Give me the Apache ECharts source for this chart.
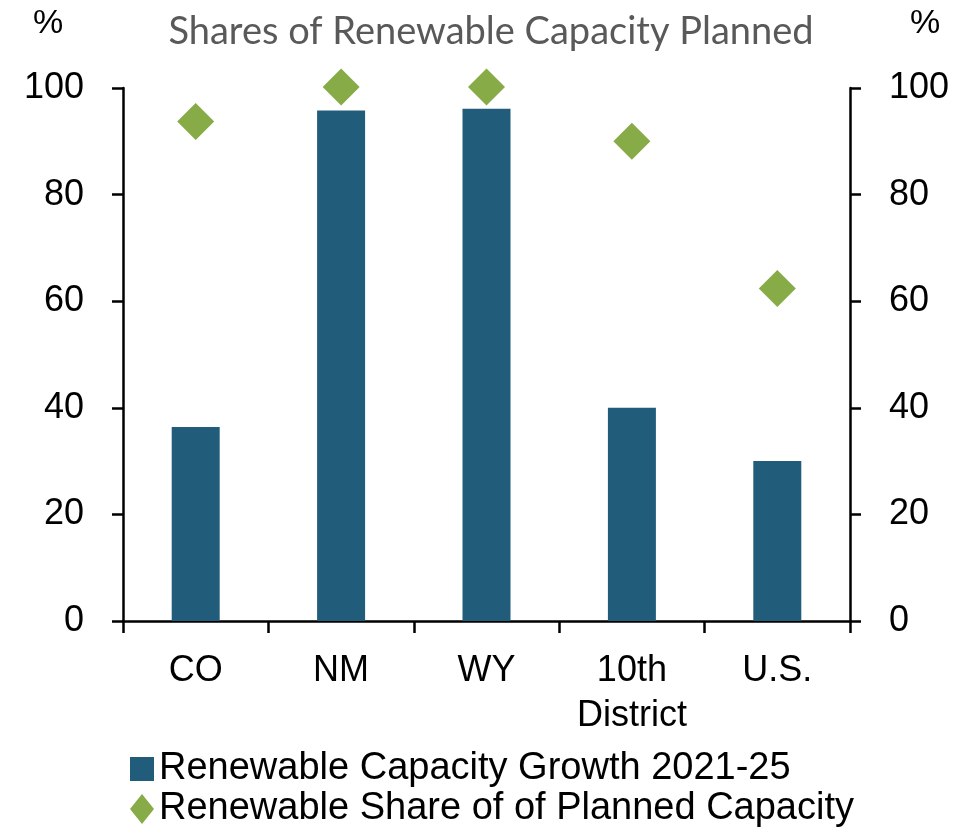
<!DOCTYPE html>
<html><head><meta charset="utf-8">
<script src="https://cdn.jsdelivr.net/npm/echarts@6/dist/echarts.min.js"></script>
<style>html,body{margin:0;padding:0;background:#fff}#c{width:976px;height:828px}</style>
</head><body><div id="c"></div>
<script>
const categories = ['CO', 'NM', 'WY', '10th\nDistrict', 'U.S.'];
const growth = [36.4, 95.8, 96.1, 40.0, 30.0];
const share = [93.7, 100.2, 100.2, 90.0, 62.4];
const yTicks = [0, 20, 40, 60, 80, 100];
const seriesNames = ['Renewable Capacity Growth 2021-25', 'Renewable Share of of Planned Capacity'];
const titleText = 'Shares of Renewable Capacity Planned';

const sans = '"Liberation Sans", Arial, sans-serif';
const chart = echarts.init(document.getElementById('c'));
const axisY = (pos) => ({
  type: 'value', position: pos, min: yTicks[0], max: yTicks[yTicks.length - 1], interval: 20,
  axisLine: { show: true, lineStyle: { color: '#000', width: 2.5 } },
  axisTick: { show: true, inside: false, length: 11, lineStyle: { color: '#000', width: 2.5 } },
  axisLabel: { color: '#000', fontSize: 36, fontFamily: sans, margin: 39 },
  splitLine: { show: false }
});
chart.setOption({
  animation: false,
  title: { text: titleText, left: 486, top: 8, textAlign: 'center',
    textStyle: { color: '#595959', fontSize: 38, fontWeight: 'normal', fontFamily: 'Lato, sans-serif' } },
  graphic: [
    { type: 'text', left: 33, top: 7, style: { text: '%', fill: '#000', font: '34px ' + sans } },
    { type: 'text', left: 910, top: 7, style: { text: '%', fill: '#000', font: '34px ' + sans } }
  ],
  grid: { left: 123, right: 126, top: 88, bottom: 207, containLabel: false },
  legend: [
    { left: 125, top: 745, itemWidth: 24, itemHeight: 24, itemGap: 0,
      textStyle: { color: '#000', fontSize: 38, fontFamily: sans },
      data: [{ name: seriesNames[0], icon: 'rect' }] },
    { left: 125, top: 785, itemWidth: 24, itemHeight: 30, itemGap: 0,
      textStyle: { color: '#000', fontSize: 38, fontFamily: sans },
      data: [{ name: seriesNames[1], icon: 'diamond' }] }
  ],
  xAxis: {
    type: 'category', data: categories, boundaryGap: true,
    axisLine: { lineStyle: { color: '#000', width: 2.5 } },
    axisTick: { show: true, interval: 0, length: 12, lineStyle: { color: '#000', width: 2.5 } },
    axisLabel: { color: '#000', fontSize: 36, fontFamily: sans, margin: 28, lineHeight: 45, interval: 0 }
  },
  yAxis: [axisY('left'), axisY('right')],
  series: [
    { name: seriesNames[0], type: 'bar', data: growth, barWidth: 48, itemStyle: { color: '#215d7a' }, yAxisIndex: 0 },
    { name: seriesNames[1], type: 'scatter', data: share, symbol: 'diamond', symbolSize: 37, clip: false,
      itemStyle: { color: '#86ab47', opacity: 1 }, yAxisIndex: 0, z: 3 }
  ]
});
</script></body></html>
